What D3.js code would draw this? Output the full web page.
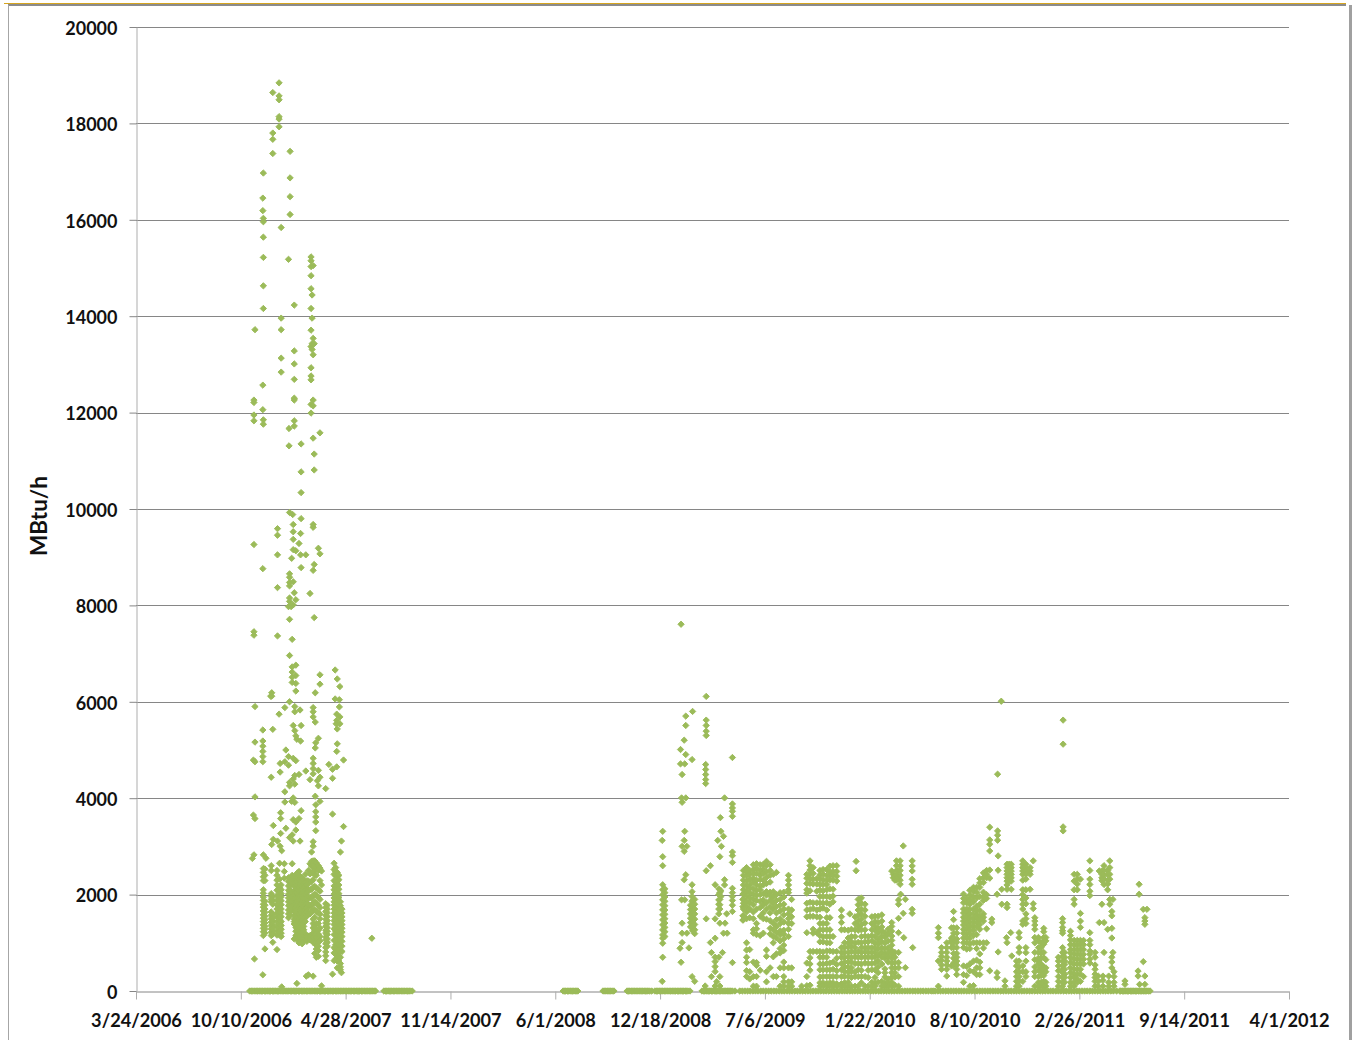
<!DOCTYPE html>
<html><head><meta charset="utf-8">
<script src="https://cdn.jsdelivr.net/npm/d3@7"></script>
<style>html,body{margin:0;background:#fff}svg{display:block}text{font-family:Lato,"Open Sans",sans-serif;font-weight:700;fill:#111}</style>
</head><body><div id="chart"></div>
<script>
const yTicks=[0,2000,4000,6000,8000,10000,12000,14000,16000,18000,20000];
const xTickDays=[0,200,400,600,800,1000,1200,1400,1600,1800,2000,2200];
const xTickLabels=["3/24/2006","10/10/2006","4/28/2007","11/14/2007","6/1/2008","12/18/2008","7/6/2009","1/22/2010","8/10/2010","2/26/2011","9/14/2011","4/1/2012"];
const yTitle="MBtu/h";
// each row: days since 3/24/2006, then the MBtu/h readings on that day
const winter2007Upper=[[222,2750],[224,4790,3650],[225,12260,12210,11950,11830,9263,7453,7382,2825],[226,665],[227,13720,5901,5164,4757,4027,3577],
[242,16450,16190,12570,12060,8762,5415,5186,5079,4971,4864,4757,336],[243,16970,16030,15960,15640,15220,14630,14160,11850,11760,2825],[248,2754],
[257,6116],[258,4435],[259,6187,6116,3040],[261,18640,17800,17670,17375,5429],[262,3433,3147],[270,9592,9456,9049,8369,7367,3111],
[273,18841,18570,18490,18140,18090,17930,5744],[275,4721,4542,3004],[276,3698,3577,3269],[277,15840,13960,13720,13130,12840],[278,2911,86],
[284,5880,4757,4134,3920],[286,5000,3376],[291,15180,7975,4864,4685],[292,11670,11310],[293,9928,8655,8584,8476,8405,8154,8083,7711,6960,6001,4328,4256,3183],
[294,17420,16870,16480,16110],[296,7975],[297,8977,3934],[298,7296,6724,6617,6510,6402,3240],[299,9885],[300,9678,9528,9370,9156,8490,8011,5508,4828,4399,4006,3555,3111],
[302,14230,13280,13010,12690,12300,12260,11830,11720,8262],[303,5901,5794,5401,4471,4292,3913],[305,9134,8118,6760,6545,6381,6223,5293,4778,3505,3340],[307,5222,157],
[311,9285,4492,3577],[313,5830,3111],[314,9492,9049,5186],[315,11350,10770,10340,9800,8784,5508,3741],[324,9049,4564],[325,308],[329,336],[332,8247,4385],
[334,15230,15150,15030,14840,14570,14160,13710,13370,12930,12760,12680,12170,11990],[335,2883],[336,14440,13960,13430,13310],
[338,15050,13540,13200,12260,12140,11470,9678,9620,8727,5880,5794,5687,4828,4721,4614,4506,3097,3004,308],[340,13430,11140,10810,8848,7747],[342,6187,5579,5043,4041],
[343,5150,3863,3720,3612,3505,3326],[346,4363],[348,9185,5243,4578,4256],[351,11580,9070,6560,6366,4435,3934],[354,107],[362,4199],[368,4700],[375,4600,4413,3670,350],
[380,6660,6059],[382,5544],[383,5744,5615,4971,4650],[384,6474,5437,5128,480],[388,6044,5894],[389,6316,5687,5544],[390,2883,500],[392,3111,380],[396,4792,3412],[450,1094]];
const winter2007Lower=[[243,2540,2460,2370,2290,2100,2030,1950,1880,1800,1740,1660,1580,1510,1440,1370,1300,1230,1150],
[246,2530,2400,2290,1860,1780,1700,1630,1550,1480,1410,1340,1280,1200,873],
[258,2600,2500,2020,1960,1900,1850,1640,1570,1500,1430,1360,1290,1220,1150],[261,1960,1880,1800,1590,1520,1450,1380,1310,1240,1180,1010],
[269,2500,2400,2300,2200,2090,1980,1880,1790,1700,1620,1540,1440,1340,1250,1160,860],[274,2650,2320,2140,2060,1980,1900,1800,1720,1640,1560,1480,1400,1320,1240,1160],
[277,2200,2100,2020,1950,1870,1790,1700,1620,1540,1440,1360,1280,1200,1130],[283,2640,2480,2340],
[291,2350,2270,2180,2090,2010,1930,1850,1770,1680,1600,1520],[294,2300,2180,2090,2000,1930,1840,1760,1670,1580],
[298,2640,2400,2300,2220,2050,1950,1850,1760,1680],[302,2350,2280,2180,2080,1990,1900,1800,1720,1650,1560,1490,1440,1390,1080],
[305,2410,2300,2210,2130,2040,1960,1880,1800,1720,1640,1560,1480,1400,1320,1240,1150],[308,2450,2360,2270,2190,2100,2020,1940,1860,1780,1700,1620,1530,1450,1370,1280,1170,1060],
[311,2480,2400,2310,2230,2150,2070,1990,1910,1830,1750,1670,1590,1510,1430,1350,1270,1190,1090,1000],[314,2370,2290,2210,2120,2040,1960,1880,1800,1720,1640,1560,1480,1400,1320,1230,1130,1030],
[317,2340,2260,2180,2100,2020,1940,1860,1780,1700,1620,1540,1460,1380,1300,1210,1100,980],[320,2300,2220,2140,2060,1980,1900,1820,1740,1660,1580,1500,1420,1340,1270,1150,1040],
[323,2420,2250,2170,2090,2010,1930,1850,1770,1690,1610,1530,1440,1190,1080],[326,2290,2200,2120,2040,1960,1880,1800,1720,1640,1550,1120,1030],
[329,2500,2280,2110,1950,1790,1610,1140],[332,2640,2430,2260,2100,1940,1780,1600,1150,1060],
[335,2690,2590,2450,2270,2110,1930,1770,1680],[338,2700,2590,2480,2310,2150,1980,1820,1660,1490,1400,1310,1200,1110,1010],
[341,2700,2600,2500,2410,2170,2010,1850,1690,1530,1360,1260,1180,1090,990,780],[344,2660,2560,2400,2140,1980,1820,1650,1400,1290,1200,1110,1030,950,870,700],
[348,2600,2500,2100,1940,1780,1620,1400,1260,1180,1100,1010,930,840,720],[351,2550,2290,2070,1900,1730,1600,1500,1310,1130,1040],
[354,2490,2200],[362,1810,1730,1650,1570,1490,1410,1340,1260,1200,1120,1060,980,900,810,730,630],[365,1780,1700,1620,1540,1460,1390,1310,1240,1170,1080,1010,930],
[378,2650,2520,2420,2290,2180,2100,2010,1930,1850,1780,1700,1620,1540,1460,1380,1290,1170,1050,900,790,630],[381,2560,2480,2390,2260,2130,2040,1960,1880,1800,1720,1640,1560,1480,1400,1320,1240,1160,1060,960,860,760,660],
[384,2460,2380,2280,2190,2110,2030,1950,1870,1790,1710,1630,1550,1470,1390,1310,1230,1150,1060,970,880,790,700,620],[387,2400,2310,2200,2110,2020,1940,1860,1780,1700,1620,1540,1460,1380,1300,1220,1140,1050,950,850,730,620,460],
[390,1850,1770,1690,1610,1530,1450,1370,1290,1210,1130,1040,940,830,700,570,440],[393,1700,1620,1540,1460,1380,1300,1220,1130,1030,930,820]];
const spring2009Sparse=[[1004,3125,200],[1005,3313,2786,2599,2204,2100,1996,1892,1788,1684,1580,1476,1372,1268,1164,1095,991,700],[1009,2120,2040,1950,1860,1770,1680,1590,1500,1410,1320,1230,1130],
[1038,887],[1039,5010,4712],[1040,7609,596],[1041,4006,1892],[1042,4491,3915,3001,1407,1199,1005],[1046,5204,3125,2897,2308],[1047,4712,3313,1892],[1049,5703,5509,4906,4006,2412],[1051,3001,1199],
[1055,894],[1058,1780,1690,1600,1510,1420,1330],[1061,4802,2204,2060,1960,1860,1770,298],[1062,5800,1880,1790,1700,1610,1520,1430,1340,1250],[1066,1900,1800,1700,1600,1490,1380,1270,1190,201],
[1086,104],[1087,4699,4595,4491,4387,4304],[1088,6112,5620,5509,5391,5301,2495,1497],[1096,2599,1005],[1098,797,298],[1105,2204,1497,1095,700,610,506,402,104],[1108,194],[1110,3125],[1112,2120,2000,1890,1800,1700,1600,700],
[1114,2786,2040,1900,1790,1700,1407,298,104],[1115,3597],[1116,3313,2080,1960],[1117,3001],[1119,797],[1121,3209,1199],[1123,4006,2308,2200],[1124,1407],[1127,1601],[1128,1199],
[1138,4844,3881,3798,3728,3624,2883,2807,2668,2130,2040,1960,1880,1780,1650,589],[1158,1470,1560,1750,1900,2010]];
const summer2009Dense=[[1159,2500,2400,2300,2200,2100,2010,1900,1820,1700,1560,1480],[1165,2560,2480,2390,2280,2180,2060,1970,1860,1760,1640,1500,1000,850,700,590,420,300],[1171,2500,2420,2320,2200,2130,2040,1930,1830,1700,1520,860,400,250],
[1178,2620,2520,2440,2340,2260,2120,2010,1900,1790,1640,1500,1270,1200,600,300,100],[1184,2640,2540,2440,2300,2200,2090,1980,1880,1700,1400,1290,1170,590,530,300,100],[1191,2620,2500,2400,2310,2180,2100,2000,1860,1730,1550,1150,430],
[1197,2630,2530,2440,2300,2200,2020,1890,1790,1620,1500,1200],[1203,2690,2600,2470,2360,2230,2060,1990,1830,1700,1490,850,720,400,190],[1210,2620,2500,2400,2260,2050,1980,1880,1750,1620,1460,1300,1180,480],
[1216,2420,2060,1950,1820,1700,1400,1270,1130,1000,710,300],[1222,2460,2000,1880,1750,1620,1480,1340,1210,1100,770,300],[1229,2040,1900,1780,1660,1500,1400,1250,1170,1040,880,790,480,100],
[1236,2050,1950,1800,1700,1580,1430,1260,1180,1080,950,840,600,480,300,190,100],[1245,2400,2300,2200,2100,2040,1700,1600,1500,1400,1280,1130,480,190,100],[1251,1900,1680,1540,1400,480,190,100],[1270,100],
[1280,2420,2340,2230,2100,2030,1820,1680,1540,1210,580,300,110],[1286,2700,2600,2510,2420,2330,2230,2080,1840,1690,1550,820,690,560,430,120],[1292,2560,2440,2320,2220,1830,1710,1550,1280,1200,820],[1299,2330,2220,2070,1830,1680,1540,1210,820],
[1305,2500,2410,2320,2210,2090,1960,1830,1700,1530,1400,1270,1150,1020,820,700,560,440,290,170,100],[1311,2520,2420,2310,2210,2080,1960,1820,1720,1400,1270,1130,1020,810,700,560,440,300,170,110],
[1318,2520,2400,2300,2210,2100,1960,1830,1680,1520,1400,1270,1130,1000,830,700,570,440,300,160,100],[1324,2590,2470,2390,2300,2120,1950,1800,1520,1270,1130,1000,830,580,440,300,170,110],
[1330,2600,2480,2400,2300,2110,1970,1850,1130,820,600,450,300,170,100],[1337,2600,2480,2380,2280,820,680,550,420,300,150,100],[1346,1680,1540,1420,1270,900,800,700,570,440,300,150,100],
[1352,1270,1000,900,800,700,600,500,400,300,170,100],[1359,1260,1100,1000,910,800,700,600,500,400,300,180,100],[1362,1600],[1365,1280,1130,1020,930,820,700,600,480,400,280,100],
[1372,1540,1400,1270,1130,1000,900,800,700,570,400,300,100],[1374,2689,2495],[1378,1900,1790,1680,1570,1450,1340,1260,1010,820,700,570,440,300,100],[1384,1930,1820,1700,1600,1490,1380,1270,1130,1000,900,800,700,560,430,300,170],
[1391,1800,1680,1550,1410,1270,1140,1020,900,810,700,580,300,100],[1397,1130,1020,900,800,700,570,430,280,100],[1404,1540,1400,1270,1150,1040,900,800,700,570,440,180,100],
[1410,1550,1440,1340,1260,1130,1000,900,800,700,580,440,280,170,100],[1416,1550,1420,1300,1200,1070,980,870,740,620,500,380,180],[1423,1580,1450,1330,1250,1130,1020,900,800,700,560,200,100],
[1429,1200,1120,1000,880,770,680,460,380,290,170,100],[1435,1280,1180,1040,900,800,700,600,250,170,100],[1442,2490,1420,1340,1240,1140,1050,950,840,760,680,580,480,380,280,180,100],
[1445,2420,2350],[1448,2390,2300,800,700,590,480,380,290,120],[1451,2700,2600,2500,2400,2300],[1454,2490,2360],[1455,1889,1800,1508,1210,800,590,480,300,100],[1458,2700,2600,2500,2400,2300,2214],[1459,2007],
[1464,3010,1612],[1465,1107],[1468,1903,484],[1481,2700,2595,2491,2318,2214,1695,1612],[1482,900]];
const year2010Dense=[[1531,1315,1200,1107,623,100],[1537,900,800,720,640,540,450],[1547,1000,900,800,700,620,540,450,310],[1556,1310,1100,1050,1000,900,520],
[1560,1650,1480,1310,1200,1100,1000,900,780,680,580,520],[1566,1310,1200,1080,1010,900,780,700,620,540,450,340],[1579,2010,1920,1830,1700,1620,1530,1450,1370,1280,1200,1100,1000,900,520,340,180],
[1585,1920,1830,1700,1630,1550,1460,1400,1300,1200,1110,1000,870,510,320],[1591,2090,1990,1900,1800,1690,1600,1520,1440,1350,1270,1180,1090,980,880,560,420,100],[1598,2150,2070,1950,1850,1700,1600,1510,1420,1340,1250,1150,1000,620,400,110],
[1604,2150,2050,1930,1760,1670,1580,1520,1430,1330,1170,1000,880,640,480,340],[1610,2330,2240,2150,1960,1800,1670,1550,1470,1380,1280,1000,770,600,480,340],[1617,2450,2350,2250,2050,1950,1880,1600,1530,1450,1000,890],
[1623,2500,2420,2350,2000,1920,1290,1000],[1629,3398,3135,3045,2906,2510,2340,420],[1633,1490,1420],[1643,2007,380,280],[1644,4498,3322,3232,3128],[1645,2803,2505,810],[1651,6012],[1652,2110,1800],
[1658,210,100],[1661,1107],[1662,2630,2560,2490,2420,2350,2280,2200,2110,1800,1730,1003],[1666,2630,2560,2490,2420,2350,2280],[1669,1211],[1670,2630,2560,2490,2420,2350,2280,2110],[1671,727],
[1680,620,520,400,300,200,100],[1685,1211,1107,900,800,620,500,400,300,200,100],[1692,2700,2630,2560,2490,2420,2300,2100,2000,1900,1800,1700,1453,1384,520,400,200],[1698,2630,2560,2490,2420,2320,2100,1930,1810,1600,1500,1400,900,796,620,400,300],
[1706,2560,2490,2420,2110],[1712,2700,1810,1710],[1715,1520,1450,1370,1280,1110,1000,800,650,500,400,300,100],[1722,1110,1040,900,800,680,620,560,430,300,180,100],[1727,1000,900,790,680,560,480,400,320,180,100],
[1732,1300,1230,1110,1040,970,800,690,500,420,320,200,100],[1736,1110,1040,650,480,400,180,100],[1760,700,620,520,420,300,200,100],[1768,1500,1420,1320,1250,1200,900,800,720,620,530,450,380,280,180,100],[1769,5620,5121,3405,3322],
[1772,800,700,620,550,450,350,280,180],[1783,1240,1150,1060,960,860,790,690,590,480,380,280,180,100],[1790,2420,2280,2100,1900,1800,1050,960,860,760,660,560,450,350,280,180,100],
[1796,2420,2320,2220,2100,1050,960,860,760,660,560,450,350,250,180],[1802,2320,1610,1450,1320,1050,960,860,760,660,560,450,350,200],[1808,1050,960,860,760,660,560,300],
[1820,2700,2500,2320,2210,2070,1980,1210,1050,960,830,760,660,580],[1830,800,700,540,450,350,280,200,100],[1836,310,200,100],[1838,2490,1420],[1843,2490,2420,2350,2290,1800],[1845,310,220,100],
[1847,2600,2500,2400,2320,2210,1420,800],[1854,2500,2420,2300,2220,2100,1280],[1856,310,180,100],[1858,2700,2560,2420,2320,1900,1800],[1862,1650,1560,1300,1100,700,600,480],[1864,1900,800],[1866,400,300,180,100],
[1887,208,138],[1912,415,311],[1914,2214,2007],[1915,138],[1922,1695,609],[1925,1522,1453,1384,311,138],[1929,1695]];
const zeroDays=[217,222,227,232,237,242,247,252,257,262,267,272,277,282,287,292,297,302,307,312,317,322,327,332,337,342,347,352,357,362,367,372,377,382,387,392,397,402,407,412,417,422,427,432,437,442,447,452,457,
473,478,483,488,493,498,503,508,513,518,523,527,815,820,825,830,835,840,843,891,896,901,906,912,937,942,947,952,957,962,967,972,977,984,
990,995,1000,1005,1010,1015,1020,1025,1030,1035,1040,1045,1050,1057,1080,1085,1090,1095,1100,1105,1110,1115,1120,1125,1130,1135,1143,
1152,1157,1162,1167,1172,1177,1182,1187,1192,1197,1202,1207,1212,1217,1222,1227,1232,1237,1242,1247,1252,1257,1262,1267,1272,1277,1282,1287,1292,1297,1302,1307,1312,1317,1322,1327,1332,1337,1342,1347,1352,1357,1362,1367,1372,1377,1382,1387,1392,1397,1402,1407,1412,1417,1422,1427,1432,1437,1442,1447,1452,1457,1462,1467,1472,1477,1482,1487,1492,1497,1502,1507,1512,1517,1521,
1525,1530,1535,1540,1545,1550,1555,1560,1565,1570,1575,1580,1585,1590,1595,1600,1605,1610,1615,1620,1625,1630,1635,1640,1645,1650,1655,1660,1665,1670,1675,1680,1685,1690,1695,1700,1705,1710,1715,1720,1725,1730,1735,1740,1745,1750,1755,1760,1765,1770,1775,1780,1785,1790,1795,1800,1805,1810,1815,1820,1825,1830,1835,1840,1845,1850,1855,1860,1865,1871,
1877,1879,1882,1884,1887,1889,1892,1894,1897,1899,1902,1904,1907,1909,1912,1914,1917,1919,1922,1924,1927,1929,1932,1935];
const zeroInfill=[220,225,230,235,240,245,250,255,260,265,270,275,280,285,290,295,300,305,310,315,320,325,330,335,340,345,350,355,360,365,370,375,380,385,390,395,400,405,410,415,420,425,430,435,440,445,450,455,476,481,486,491,496,501,506,511,516,521,
818,823,828,833,838,894,899,904,909,940,945,950,955,960,965,970,975,980,993,998,1003,1008,1013,1018,1023,1028,1033,1038,1043,1048,1053,1083,1088,1093,1098,1103,1108,1113,1118,1123,1128,1133,1138];

const W=1353,H=1040,plotL=136,plotR=1289,plotT=27,plotB=991;
const x=d3.scaleLinear().domain([0,2200]).range([plotL,plotR]);
const y=d3.scaleLinear().domain([0,20000]).range([plotB,plotT]);
const svg=d3.select("#chart").append("svg").attr("width",W).attr("height",H);

// window frame of the source screenshot
svg.append("line").attr("x1",4).attr("x2",1346).attr("y1",3.5).attr("y2",3.5).attr("stroke","#d6a520").attr("stroke-width",1);
svg.append("line").attr("x1",8).attr("x2",1346).attr("y1",5).attr("y2",5).attr("stroke","#8c8c8c").attr("stroke-width",2);
svg.append("line").attr("x1",8.5).attr("x2",8.5).attr("y1",5).attr("y2",1040).attr("stroke","#a6a6a6");
svg.append("line").attr("x1",1350.5).attr("x2",1350.5).attr("y1",5).attr("y2",1040).attr("stroke","#a0a0a0").attr("stroke-width",3);

// grid
svg.append("g").selectAll("line").data(yTicks.filter(t=>t>0)).join("line")
  .attr("x1",plotL).attr("x2",plotR).attr("y1",d=>Math.round(y(d))+.5).attr("y2",d=>Math.round(y(d))+.5)
  .attr("stroke","#868686");

// axes
const gx=svg.append("g").attr("transform",`translate(0,${plotB+.5})`)
  .call(d3.axisBottom(x).tickValues(xTickDays).tickFormat((d,i)=>xTickLabels[i]).tickSize(8).tickSizeOuter(0).tickPadding(15));
gx.select(".domain").attr("stroke","#868686");
gx.selectAll(".tick line").attr("stroke","#adadad");
gx.selectAll("text").attr("font-size",18.2).attr("fill","#111").attr("font-family",'Lato,"Open Sans",sans-serif');
const gy=svg.append("g").attr("transform",`translate(${plotL+.5},0)`)
  .call(d3.axisLeft(y).tickValues(yTicks).tickSize(7).tickSizeOuter(0).tickPadding(12).tickFormat(d3.format("d")));
gy.select(".domain").attr("stroke","#adadad");
gy.selectAll(".tick line").attr("stroke","#868686");
gy.selectAll("text").attr("font-size",18).attr("fill","#111").attr("dy","1.32em").attr("dy",".4em").attr("font-family",'Lato,"Open Sans",sans-serif');
svg.append("text").attr("transform","translate(47,516) rotate(-90)").attr("text-anchor","middle").attr("font-size",22.5).text(yTitle);

// markers
const rows=[...winter2007Upper,...winter2007Lower,...spring2009Sparse,...summer2009Dense,...year2010Dense];
const points=rows.flatMap(([day,...vals])=>vals.map(v=>[day,v])).concat(zeroDays.concat(zeroInfill).map(day=>[day,0]));
const diamond=d3.symbol().type(d3.symbolSquare).size(20)();
svg.append("g").selectAll("path").data(points).join("path")
  .attr("d",diamond).attr("fill","#9bbb59").attr("stroke","#9bbb59").attr("stroke-width",.9).attr("stroke-linejoin","round")
  .attr("transform",d=>`translate(${x(d[0])},${y(d[1])}) rotate(45)`);
</script></body></html>
